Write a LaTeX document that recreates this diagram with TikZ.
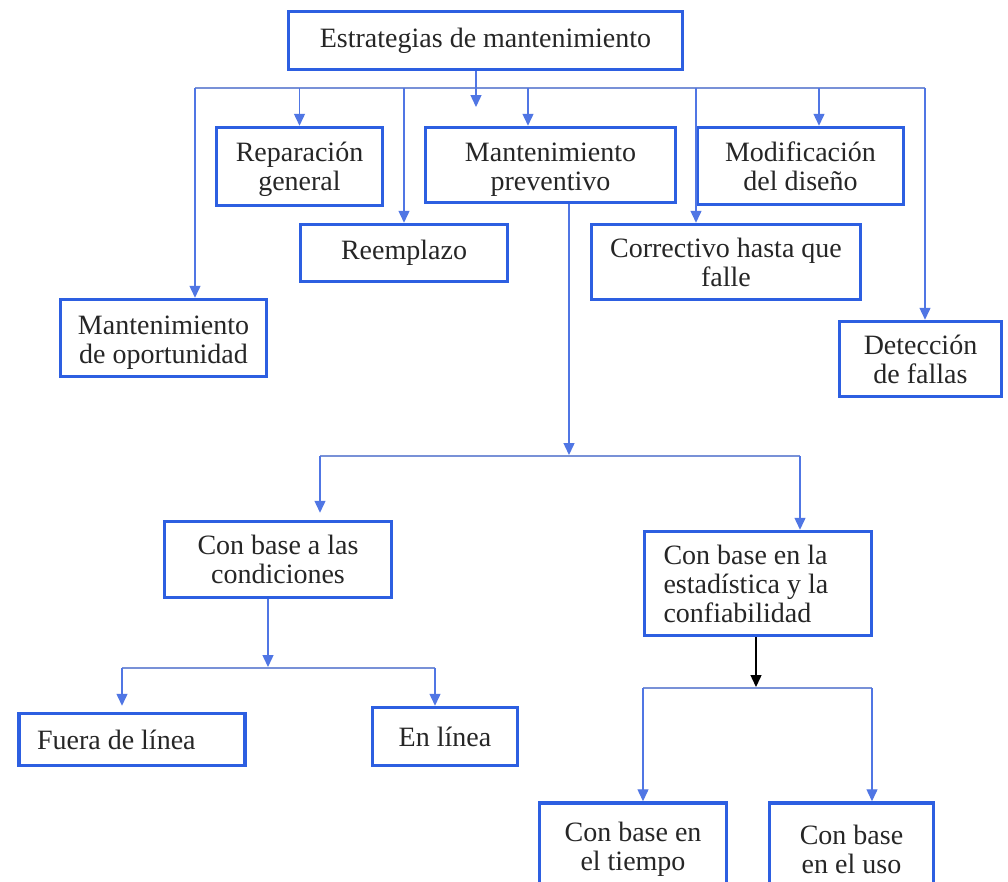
\documentclass[tikz,border=0pt]{standalone}
\usepackage{fontspec}
\setmainfont{Liberation Serif}
\usepackage{xcolor}
\usetikzlibrary{arrows.meta,positioning,calc}
\definecolor{boxblue}{RGB}{45,95,225}
\definecolor{lineblue}{RGB}{80,118,228}
\definecolor{busblue}{RGB}{120,145,215}

\begin{document}
\begin{tikzpicture}[
    x=1pt, y=-1pt,
    >={Triangle[length=12pt,width=11pt]},
    box/.style={draw=boxblue, line width=3.5pt, fill=white, align=center,
        inner sep=0pt, text=black!85, font=\fontsize{28}{29}\selectfont},
    arrw/.style={->, lineblue, line width=1.4pt},
    bus/.style={busblue, line width=1.6pt},
]
\useasboundingbox (0,0) rectangle (1008,881);
\fill[white] (0,0) rectangle (1008,881);
\clip (0,0) rectangle (1008,881);

% === TOP LEVEL ===
\node[box, minimum width=394pt, minimum height=58pt] (top) at (485.5,40.5)
    {Estrategias de mantenimiento};

% === STRATEGIES ===
\node[box, minimum width=166pt, minimum height=78pt] (rep) at (299.5,166.5)
    {\rule{0pt}{26pt}Reparación\\general};
\node[box, minimum width=207pt, minimum height=57pt] (reem) at (404,253)
    {Reemplazo};
\node[box, minimum width=250pt, minimum height=75pt] (prev) at (550.5,165)
    {\rule{0pt}{28pt}Mantenimiento\\preventivo};
\node[box, minimum width=206pt, minimum height=77pt] (mod) at (800.5,166)
    {Modificación\\del diseño};
\node[box, minimum width=269pt, minimum height=75pt] (corr) at (726,262)
    {Correctivo hasta que\\falle};
\node[box, minimum width=206pt, minimum height=77pt] (opor) at (163.5,338)
    {\rule{0pt}{28pt}Mantenimiento\\de oportunidad};
\node[box, minimum width=162pt, minimum height=75pt] (det) at (920.5,359)
    {Detección\\de fallas};

% === PREVENTIVE ===
\node[box, minimum width=227pt, minimum height=76pt] (cond) at (278,559.5)
    {Con base a las\\condiciones};
\node[box, text width=189pt, inner xsep=19pt, align=flush left, minimum height=104pt]
    (est) at (758,583.5) {Con base en la\\estadística y la\\confiabilidad};

% === CONDITION BASED ===
\node[box, text width=190pt, inner xsep=18pt, align=flush left, minimum height=52pt]
    (fuera) at (132,739.5) {Fuera de línea};
\node[box, minimum width=145pt, minimum height=58pt] (enl) at (445,736.5)
    {\rule{0pt}{16pt}En línea};

% === STATISTICS BASED ===
\node[box, minimum width=187pt, minimum height=92pt] (tiempo) at (633,849)
    {Con base en\\el tiempo};
\node[box, minimum width=164pt, minimum height=92pt] (uso) at (851.5,849)
    {Con base\\en el uso};

% === ARROWS TOP -> STRATEGIES ===
\coordinate (b1L) at (195,88);
\coordinate (b1R) at (925,88);
\coordinate (b1tip) at (476,107);
\draw[bus] (b1L) -- (b1R);
\draw[arrw] (top.south -| b1tip) -- (b1tip);
\draw[arrw] (b1L) -- (b1L |- opor.north);
\draw[arrw] (rep.north |- b1L) -- (rep.north);
\draw[arrw] (reem.north |- b1L) -- (reem.north);
\draw[arrw] ([xshift=-22.5pt]prev.north |- b1L) -- ([xshift=-22.5pt]prev.north);
\draw[arrw] ([xshift=-30pt]corr.north |- b1L) -- ([xshift=-30pt]corr.north);
\draw[arrw] ([xshift=18.5pt]mod.north |- b1L) -- ([xshift=18.5pt]mod.north);
\draw[arrw] (b1R) -- (b1R |- det.north);

% === ARROWS PREV -> BASES ===
\coordinate (b2L) at (320,456);
\coordinate (b2R) at (800,456);
\coordinate (b2tip) at (569,455);
\draw[bus] (b2L) -- (b2R);
\draw[arrw] (prev.south -| b2tip) -- (b2tip);
\draw[arrw, shorten >=7pt] (b2L) -- (b2L |- cond.north);
\draw[arrw] (b2R) -- (b2R |- est.north);

% === ARROWS COND -> LINE ===
\coordinate (b3L) at (122,668);
\coordinate (b3R) at (435,668);
\coordinate (b3tip) at (268,667);
\draw[bus] (b3L) -- (b3R);
\draw[arrw] (cond.south -| b3tip) -- (b3tip);
\draw[arrw, shorten >=6pt] (b3L) -- (b3L |- fuera.north);
\draw[arrw] (b3R) -- (b3R |- enl.north);

% === ARROWS EST -> TIME / USE ===
\coordinate (b4L) at (643,688);
\coordinate (b4R) at (872,688);
\coordinate (b4tip) at (756,687);
\draw[bus] (b4L) -- (b4R);
\draw[->, black, line width=1.4pt] (est.south -| b4tip) -- (b4tip);
\draw[arrw] (b4L) -- (b4L |- tiempo.north);
\draw[arrw] (b4R) -- (b4R |- uso.north);

\end{tikzpicture}
\end{document}
